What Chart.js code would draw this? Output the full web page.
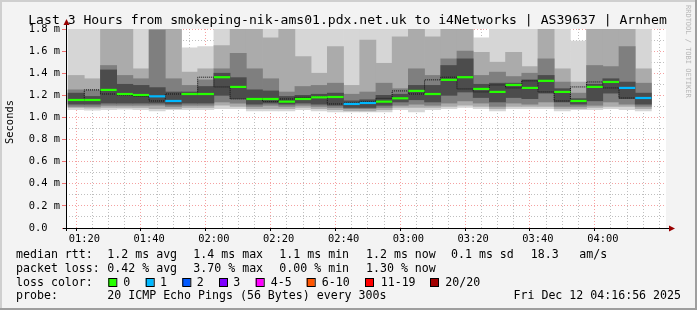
<!DOCTYPE html>
<html>
<head>
<meta charset="utf-8">
<script src="https://cdn.jsdelivr.net/npm/chart.js@4.4.1/dist/chart.umd.min.js"></script>
<style>
html,body{margin:0;padding:0;background:#f3f3f3;overflow:hidden;}
canvas{display:block;}
</style>
</head>
<body>
<canvas id="c" width="697" height="310"></canvas>
<script>
// ---- data ----
const barEnd = ['01:20','01:25','01:30','01:35','01:40','01:45','01:50','01:55','02:00','02:05','02:10','02:15',
  '02:20','02:25','02:30','02:35','02:40','02:45','02:50','02:55','03:00','03:05','03:10','03:15',
  '03:20','03:25','03:30','03:35','03:40','03:45','03:50','03:55','04:00','04:05','04:10','04:15'];
const median = [1.158,1.158,1.249,1.212,1.203,1.191,1.149,1.212,1.212,1.364,1.276,1.167,
  1.167,1.143,1.167,1.182,1.185,1.122,1.131,1.143,1.173,1.240,1.212,1.340,
  1.364,1.258,1.231,1.294,1.267,1.331,1.231,1.149,1.276,1.321,1.267,1.176];
const lossCount = [0,0,0,0,0,1,1,0,0,0,0,0, 0,0,0,0,0,1,1,0,0,0,0,0, 0,0,0,0,0,0,0,0,0,0,1,1];
// smoke bands (outer -> inner), upper and lower edges
const smokeTop = [1.9,1.9,1.9,1.9,1.9,1.9,1.9,1.63,1.64,1.9,1.9,1.9, 1.9,1.9,1.9,1.9,1.9,1.9,1.9,1.9,1.9,1.9,1.9,1.9,
  1.9,1.72,1.9,1.9,1.9,1.9,1.9,1.69,1.9,1.9,1.9,1.9];
const smokeHi2 = [1.38,1.35,1.9,1.9,1.44,1.9,1.9,1.41,1.44,1.65,1.9,1.9, 1.72,1.9,1.55,1.40,1.64,1.29,1.70,1.49,1.73,1.9,1.73,1.9,
  1.9,1.59,1.50,1.59,1.46,1.9,1.44,1.32,1.9,1.9,1.9,1.44];
const smokeHi3 = [1.25,1.25,1.47,1.38,1.35,1.79,1.35,1.29,1.34,1.44,1.58,1.44, 1.35,1.23,1.28,1.29,1.31,1.21,1.23,1.31,1.26,1.44,1.38,1.53,
  1.60,1.38,1.41,1.37,1.40,1.53,1.32,1.22,1.47,1.46,1.64,1.31];
const smokeHi4 = [1.22,1.19,1.43,1.30,1.29,1.27,1.23,1.23,1.28,1.40,1.36,1.25, 1.24,1.19,1.20,1.21,1.22,1.15,1.16,1.20,1.21,1.29,1.29,1.47,
  1.53,1.30,1.31,1.31,1.34,1.38,1.26,1.17,1.30,1.35,1.32,1.22];
const smokeLo4 = [1.12,1.12,1.13,1.13,1.13,1.13,1.12,1.13,1.13,1.20,1.17,1.12, 1.13,1.12,1.13,1.12,1.11,1.09,1.09,1.11,1.14,1.16,1.14,1.20,
  1.23,1.18,1.14,1.18,1.17,1.22,1.14,1.12,1.15,1.22,1.17,1.12];
const smokeLo3 = [1.10,1.10,1.11,1.11,1.11,1.11,1.10,1.11,1.11,1.14,1.13,1.10, 1.11,1.10,1.11,1.10,1.09,1.08,1.08,1.09,1.11,1.12,1.11,1.13,
  1.15,1.13,1.10,1.13,1.12,1.14,1.10,1.10,1.11,1.14,1.12,1.10];
const smokeLo2 = [1.09,1.085,1.09,1.09,1.09,1.08,1.08,1.09,1.09,1.11,1.10,1.08, 1.08,1.08,1.09,1.08,1.07,1.06,1.06,1.07,1.09,1.09,1.09,1.10,
  1.11,1.10,1.08,1.10,1.10,1.10,1.08,1.08,1.09,1.10,1.10,1.08];
const smokeBottom = [1.07,1.065,1.07,1.075,1.07,1.06,1.07,1.07,1.07,1.08,1.08,1.06, 1.06,1.06,1.07,1.06,1.05,1.05,1.05,1.05,1.07,1.05,1.07,1.08,
  1.09,1.08,1.06,1.08,1.08,1.08,1.06,1.07,1.07,1.08,1.07,1.06];

const xTickLabels = ['01:20','01:40','02:00','02:20','02:40','03:00','03:20','03:40','04:00'];
const yTickLabels = ['0.0  ','0.2 m','0.4 m','0.6 m','0.8 m','1.0 m','1.2 m','1.4 m','1.6 m','1.8 m'];
const rangeStart = '01:16:56';
const rangeEnd = '04:16:56';
const yMin = 0, yMax = 1.8;

const titleText = 'Last 3 Hours from smokeping-nik-ams01.pdx.net.uk to i4Networks | AS39637 | Arnhem';
const yTitle = 'Seconds';
const lossLabels = ['0','1','2','3','4-5','6-10','11-19','20/20'];
const lossColors = ['#26ff00','#00b8ff','#0059ff','#7e00ff','#ff00ff','#ff5500','#ff0000','#a10000'];
const legendRtt = ['median rtt:','1.2 ms avg','1.4 ms max','1.1 ms min','1.2 ms now','0.1 ms sd','18.3','am/s'];
const legendLoss = ['packet loss:','0.42 % avg','3.70 % max','0.00 % min','1.30 % now'];
const legendColorTitle = 'loss color:';
const legendProbe = ['probe:','20 ICMP Echo Pings (56 Bytes) every 300s'];
const stampText = 'Fri Dec 12 04:16:56 2025';
const watermark = 'RRDTOOL / TOBI OETIKER';

// ---- helpers ----
const toMin = s => { const p = s.split(':').map(Number); return p[0]*60 + p[1] + (p[2]||0)/60; };
const ends = barEnd.map(toMin);
const starts = ends.map((e,i) => i > 0 ? ends[i-1] : e - (ends[1]-ends[0]));
const centers = ends.map((e,i) => (e + starts[i]) / 2);
const lossIdx = n => n===0?0:n===1?1:n===2?2:n===3?3:n<=5?4:n<=10?5:n<20?6:7;

const band = (lo, hi) => centers.map((c,i) => ({x:c, y:[lo[i], hi[i]]}));
const bandColors = ['#d6d6d6','#ababab','#7f7f7f','#4c4c4c'];

const medianPts = [];
median.forEach((m,i) => { medianPts.push({x:starts[i], y:m}, {x:ends[i], y:m}, {x:ends[i], y:null}); });
const stepPts = median.map((m,i) => ({x:starts[i], y:m}));
stepPts.push({x:ends[ends.length-1], y:median[median.length-1]});

const MONO = '"DejaVu Sans Mono", monospace';
Chart.defaults.font.family = MONO;

const xMajorVals = xTickLabels.map(toMin);
const isMajorX = c => !!(c && c.tick) && xMajorVals.some(t => Math.abs(t - c.tick.value) < 1e-6);
const isMajorY = c => !!(c && c.tick) && Math.round(c.tick.value*10) % 2 === 0;
const GRID_MAJOR = 'rgba(240,110,110,0.65)';
const GRID_MINOR = 'rgba(170,170,170,0.75)';

const deco = {
  id: 'deco',
  beforeDraw(chart) {
    const {ctx, chartArea: a, width: W, height: H} = chart;
    ctx.save();
    ctx.fillStyle = '#f3f3f3'; ctx.fillRect(0,0,W,H);
    ctx.fillStyle = '#cfcfcf'; ctx.fillRect(0,0,W,2); ctx.fillRect(0,0,2,H);
    ctx.fillStyle = '#9e9e9e'; ctx.fillRect(0,H-2,W,2); ctx.fillRect(W-2,0,2,H);
    ctx.fillStyle = '#ffffff'; ctx.fillRect(a.left, a.top, a.right-a.left, a.bottom-a.top);
    ctx.restore();
  },
  afterDraw(chart) {
    const {ctx, chartArea: a} = chart;
    ctx.save();
    ctx.strokeStyle = '#000'; ctx.lineWidth = 1;
    ctx.beginPath(); ctx.moveTo(a.left-3, a.bottom+0.5); ctx.lineTo(a.right+4, a.bottom+0.5); ctx.stroke();
    ctx.beginPath(); ctx.moveTo(a.left+0.5, a.bottom+3); ctx.lineTo(a.left+0.5, a.top-4); ctx.stroke();
    ctx.fillStyle = '#990000';
    ctx.beginPath(); ctx.moveTo(a.right+9, a.bottom+0.5); ctx.lineTo(a.right+3, a.bottom-2.5); ctx.lineTo(a.right+3, a.bottom+3.5); ctx.closePath(); ctx.fill();
    ctx.beginPath(); ctx.moveTo(a.left+0.5, a.top-10); ctx.lineTo(a.left-2.5, a.top-4); ctx.lineTo(a.left+3.5, a.top-4); ctx.closePath(); ctx.fill();
    ctx.fillStyle = '#000';
    ctx.font = '13.1px ' + MONO; ctx.textAlign = 'center'; ctx.textBaseline = 'alphabetic';
    ctx.fillText(titleText, 347.5, 24);
    ctx.save(); ctx.translate(10.5, 122); ctx.rotate(-Math.PI/2);
    ctx.font = '10.4px ' + MONO; ctx.textAlign = 'center'; ctx.textBaseline = 'middle';
    ctx.fillText(yTitle, 0, 0); ctx.restore();
    ctx.save(); ctx.translate(688, 5); ctx.rotate(Math.PI/2);
    ctx.font = '7px ' + MONO; ctx.fillStyle = '#b8b8b8'; ctx.textAlign = 'left'; ctx.textBaseline = 'middle';
    ctx.fillText(watermark, 0, 0); ctx.restore();
    ctx.font = '11.6px ' + MONO; ctx.textAlign = 'left'; ctx.textBaseline = 'alphabetic'; ctx.fillStyle = '#000';
    const colX = [16, 107.3, 193.3, 279.3, 366, 451, 530.7, 579.3];
    legendRtt.forEach((t,i) => ctx.fillText(t, colX[i], 258.3));
    legendLoss.forEach((t,i) => ctx.fillText(t, colX[i], 271.8));
    ctx.fillText(legendColorTitle, 16, 285.6);
    const boxX = [108.3,145.7,182.3,219,255.7,306.7,365,430];
    const labX = [123.3,160,196.7,233.3,270.7,321.7,380.7,445.3];
    lossLabels.forEach((t,i) => {
      ctx.fillStyle = lossColors[i]; ctx.fillRect(boxX[i], 278, 8, 8);
      ctx.strokeStyle = '#000'; ctx.lineWidth = 1; ctx.strokeRect(boxX[i]+0.5, 278.5, 8, 8);
      ctx.fillStyle = '#000'; ctx.fillText(t, labX[i], 285.6);
    });
    legendProbe.forEach((t,i) => ctx.fillText(t, colX[i], 299.2));
    ctx.textAlign = 'right'; ctx.fillText(stampText, 681, 299.2);
    ctx.restore();
  }
};

const bandDs = (lo, hi, k) => ({
  type: 'bar', data: band(lo, hi), backgroundColor: bandColors[k], borderWidth: 0,
  grouped: false, barPercentage: 1, categoryPercentage: 1, order: 10 - k, clip: 0
});

new Chart(document.getElementById('c'), {
  type: 'bar',
  data: {
    datasets: [
      { type: 'line', data: medianPts, order: 0, clip: 0, borderWidth: 2.2, borderCapStyle: 'butt',
        pointRadius: 0, spanGaps: false, borderColor: lossColors[0],
        segment: { borderColor: c => lossColors[lossIdx(lossCount[Math.floor(c.p0DataIndex/3)] || 0)] } },
      { type: 'line', data: stepPts, order: 1, clip: 0, stepped: 'after', borderColor: '#111',
        borderWidth: 1, borderDash: [1,1], pointRadius: 0 },
      bandDs(smokeLo4, smokeHi4, 3),
      bandDs(smokeLo3, smokeHi3, 2),
      bandDs(smokeLo2, smokeHi2, 1),
      bandDs(smokeBottom, smokeTop, 0)
    ]
  },
  options: {
    responsive: false, animation: false, devicePixelRatio: 1,
    events: [],
    layout: { padding: { top: 29, right: 31, left: 0, bottom: 0 }, autoPadding: false },
    plugins: { legend: { display: false }, tooltip: { enabled: false }, title: { display: false } },
    scales: {
      x: {
        type: 'linear', min: toMin(rangeStart), max: toMin(rangeEnd), z: 1,
        afterFit: s => { s.height = 82; },
        afterBuildTicks: s => { s.ticks = ends.filter(v => v <= toMin(rangeEnd)).map(v => ({value: v})); },
        ticks: {
          autoSkip: false, maxRotation: 0, padding: 2, color: '#000',
          font: { size: 10.4, family: MONO },
          callback: v => { const i = xMajorVals.findIndex(t => Math.abs(t - v) < 1e-6); return i >= 0 ? xTickLabels[i] : ''; }
        },
        grid: {
          color: c => isMajorX(c) ? GRID_MAJOR : GRID_MINOR,
          tickColor: c => isMajorX(c) ? '#000' : 'rgba(0,0,0,0)',
          tickLength: 3, lineWidth: 1
        },
        border: { display: false, dash: [1,2] }
      },
      y: {
        type: 'linear', min: yMin, max: yMax, z: 1,
        afterFit: s => { s.width = 66; },
        ticks: {
          stepSize: 0.1, autoSkip: false, padding: 2, color: '#000',
          font: { size: 10.4, family: MONO },
          callback: v => { const k = Math.round(v*10); return k % 2 ? '' : yTickLabels[k/2]; }
        },
        grid: {
          color: c => isMajorY(c) ? GRID_MAJOR : GRID_MINOR,
          tickColor: c => isMajorY(c) ? '#f07070' : 'rgba(0,0,0,0)',
          tickLength: 4, lineWidth: 1
        },
        border: { display: false, dash: [1,2] }
      }
    }
  },
  plugins: [deco]
});
</script>
</body>
</html>
